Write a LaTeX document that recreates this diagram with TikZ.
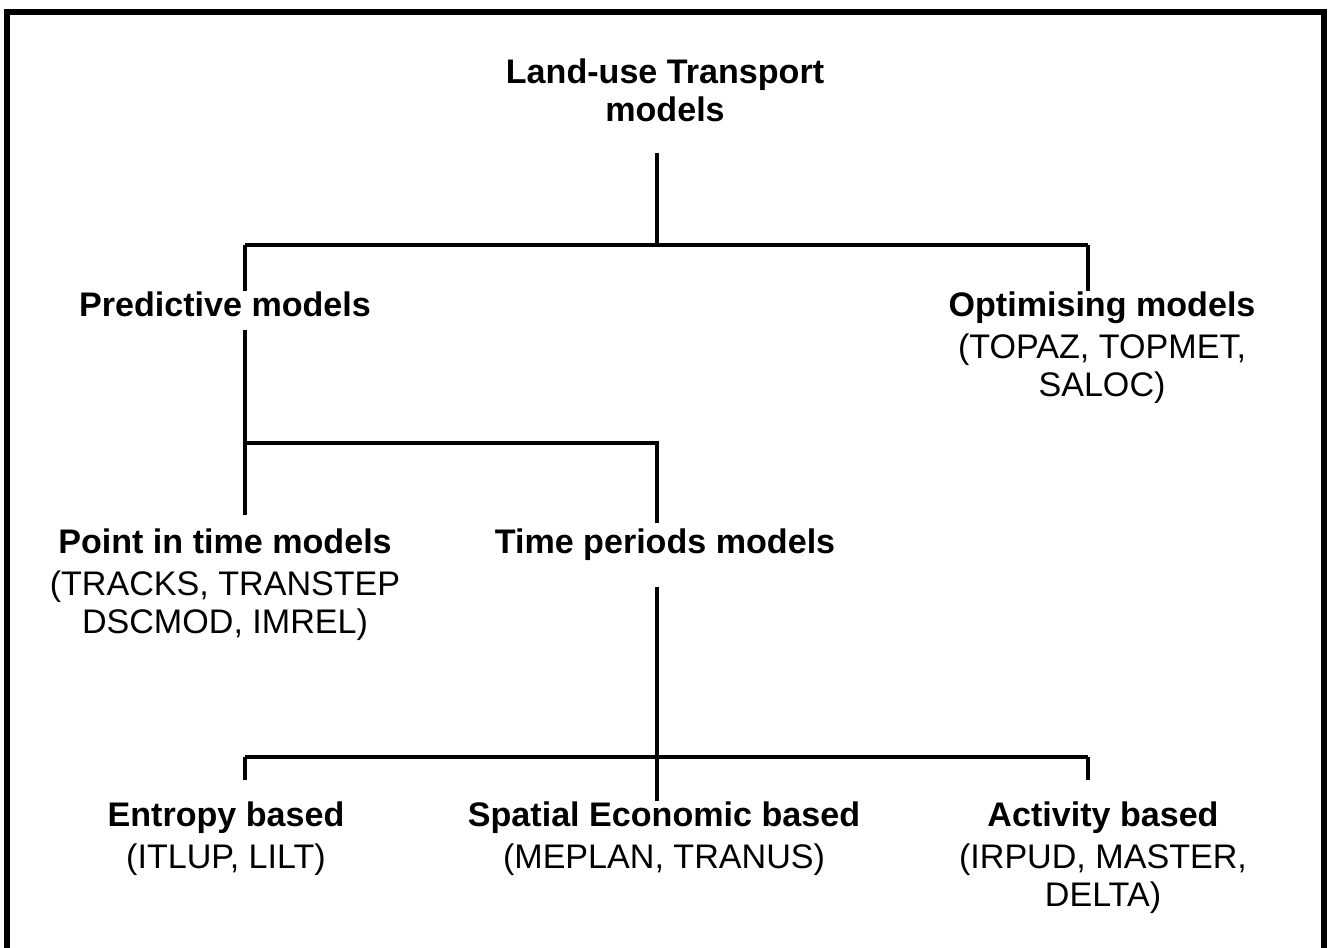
\documentclass[tikz,border=0pt]{standalone}
\usepackage{fontspec}
\setmainfont{Liberation Sans}
\usetikzlibrary{positioning}

\tikzset{
  lbl/.style={align=center, inner sep=0pt, anchor=north, font=\fontsize{9.7}{10.9}\selectfont},
  link/.style={line width=1pt}
}

\begin{document}
\begin{tikzpicture}
\useasboundingbox (0,0) rectangle (13.31,-9.48);
\draw[line width=1.5pt] (0.07,-9.48) -- (0.07,-0.12) -- (13.24,-0.12) -- (13.24,-9.48);

\node[lbl] (lut) at (6.65,-0.58) {\textbf{Land-use Transport}\\\textbf{models}};
\node[lbl] (pred) at (2.25,-2.91) {\textbf{Predictive models}};
\node[lbl] (optim) at (11.02,-2.91) {\textbf{Optimising models}\\[1pt](TOPAZ, TOPMET,\\SALOC)};
\node[lbl] (point) at (2.25,-5.28) {\textbf{Point in time models}\\[1pt](TRACKS, TRANSTEP\\DSCMOD, IMREL)};
\node[lbl] (period) at (6.65,-5.28) {\textbf{Time periods models}};
\node[lbl] (entropy) at (2.26,-8.01) {\textbf{Entropy based}\\[1pt](ITLUP, LILT)};
\node[lbl] (spatial) at (6.64,-8.01) {\textbf{Spatial Economic based}\\[1pt](MEPLAN, TRANUS)};
\node[lbl] (activity) at (11.03,-8.01) {\textbf{Activity based}\\[1pt](IRPUD, MASTER,\\DELTA)};

\coordinate (root) at (6.57,-2.45);
\coordinate (pl) at (2.45,-2.45);
\coordinate (pr) at (10.88,-2.45);
\coordinate (mid) at (2.45,-4.43);
\coordinate (mr) at (6.57,-4.43);
\coordinate (low) at (6.57,-7.57);
\coordinate (ll) at (2.45,-7.57);
\coordinate (lr) at (10.88,-7.57);

\draw[link,shorten <=0.3cm] (lut.south -| root) -- (root);
\draw[link] (pl) -- (pr);
\draw[link] (pl) -- (pred.north -| pl);
\draw[link] (pr) -- (optim.north -| pr);
\draw[link,shorten <=0.13cm,shorten >=0.13cm] (pred.south -| mid) -- (point.north -| mid);
\draw[link,shorten >=0.05cm] (mid) -- (mr) -- (period.north -| mr);
\draw[link,shorten <=0.26cm] (period.south -| low) -- (spatial.north -| low);
\draw[link] (ll) -- (lr);
\draw[link,shorten >=0.21cm] (ll) -- (entropy.north -| ll);
\draw[link,shorten >=0.21cm] (lr) -- (activity.north -| lr);
\end{tikzpicture}
\end{document}
